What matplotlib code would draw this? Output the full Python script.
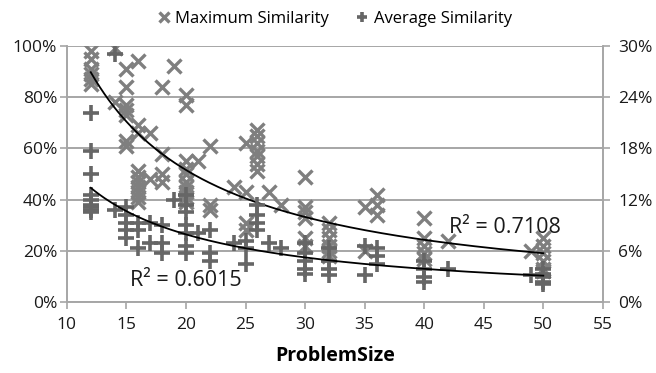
import numpy as np
import matplotlib
matplotlib.use("Agg")
import matplotlib.pyplot as plt
from matplotlib.ticker import FuncFormatter

# ---- data ----
max_x = [12]*6 + [14]*2 + [15]*7 + [16]*10 + [17]*2 + [18]*4 + [19] + [20]*10 + [21] + [22]*3 + \
        [24] + [25]*4 + [26]*7 + [27] + [28] + [30]*6 + [32]*6 + [35]*2 + [36]*3 + [40]*5 + [42] + [49] + [50]*6
max_y = [98, 95, 91, 89, 87, 85,
         99, 78,
         91, 84, 77, 75, 73, 63, 61,
         94, 69, 66, 51, 49, 47, 45, 43, 41, 39,
         66, 48,
         84, 58, 50, 47,
         92,
         81, 77, 55, 52, 50, 47, 45, 43, 41, 39,
         55,
         61, 38, 36,
         45,
         62, 43, 31, 28,
         67, 65, 62, 59, 57, 54, 51,
         43,
         38,
         49, 37, 35, 33, 25, 22,
         31, 28, 25, 22, 20, 18,
         37, 20,
         42, 38, 34,
         33, 25, 22, 19, 17,
         24,
         20,
         25, 22, 19, 16, 13, 12]

avg_x = [12]*9 + [14]*2 + [15]*5 + [16]*3 + [17]*2 + [18]*3 + [19] + [20]*7 + [21] + [22]*3 + \
        [24] + [25]*3 + [26]*4 + [27] + [28] + [30]*5 + [32]*4 + [35]*2 + [36]*3 + [40]*4 + [42] + [49] + [50]*5
# average similarity on the secondary axis (0-30%)
avg_y = [22.2, 17.7, 15.0, 12.6, 12.0, 11.4, 11.1, 10.8, 10.5,
         29.1, 10.8,
         11.1, 10.2, 9.3, 8.4, 7.5,
         9.3, 8.4, 6.3,
         9.3, 6.9,
         9.0, 6.9, 5.7,
         12.0,
         12.6, 11.4, 10.5, 9.0, 8.1, 6.6, 5.7,
         8.1,
         8.4, 5.7, 4.8,
         6.9,
         7.2, 6.3, 4.5,
         11.4, 10.2, 9.3, 8.4,
         6.9,
         6.3,
         6.9, 5.7, 4.8, 3.9, 3.3,
         6.3, 4.8, 3.9, 3.15,
         6.6, 3.15,
         6.3, 5.4, 4.5,
         4.8, 3.9, 3.0, 2.4,
         3.9,
         3.15,
         3.9, 3.3, 3.0, 2.4, 2.1]

left_ticks = [0, 20, 40, 60, 80, 100]
right_ticks = [0, 6, 12, 18, 24, 30]
x_ticks = [10, 15, 20, 25, 30, 35, 40, 45, 50, 55]
r2_max = "R² = 0.7108"
r2_avg = "R² = 0.6015"


def power_fit(x, y):
    x = np.asarray(x, float)
    y = np.asarray(y, float)
    b, lna = np.polyfit(np.log(x), np.log(y), 1)
    return np.exp(lna), b


plt.rcParams['font.family'] = ['Open Sans', 'DejaVu Sans']

fig = plt.figure(figsize=(6.56, 3.73), dpi=100)
ax = fig.add_axes([0.102, 0.190, 0.817, 0.687])
ax2 = ax.twinx()

grid_c = '#a6a6a6'
ax.set_xlim(10, 55)
ax.set_ylim(0, 100)
ax2.set_ylim(0, 30)
ax.set_xticks(x_ticks)
ax.set_yticks(left_ticks)
ax2.set_yticks(right_ticks)
ax.yaxis.set_major_formatter(FuncFormatter(lambda v, p: f"{int(v)}%"))
ax2.yaxis.set_major_formatter(FuncFormatter(lambda v, p: f"{int(v)}%"))
ax.grid(axis='y', color=grid_c, linewidth=1.4)
ax.set_axisbelow(True)
for a in (ax, ax2):
    a.spines['top'].set_visible(False)
    for s in ('left', 'right', 'bottom'):
        a.spines[s].set_color(grid_c)
        a.spines[s].set_linewidth(1.2)
    a.tick_params(axis='both', colors=grid_c, length=5, width=1.2,
                  labelcolor='#1a1a1a', labelsize=12.5)
ax.tick_params(axis='x', pad=6)
ax.tick_params(axis='y', pad=2)
ax2.tick_params(axis='y', pad=6)

mx_c = '#7f7f7f'
av_c = '#666666'
h1, = ax.plot(max_x, max_y, linestyle='none', marker='x', markersize=10,
              markeredgewidth=2.4, color=mx_c, label='Maximum Similarity', zorder=3)
h2, = ax2.plot(avg_x, avg_y, linestyle='none', marker='+', markersize=11,
               markeredgewidth=2.6, color=av_c, label='Average Similarity', zorder=3)

xs = np.linspace(min(max_x), max(max_x), 200)
a1, b1 = power_fit(max_x, max_y)
ax.plot(xs, a1 * xs ** b1, color='black', linewidth=1.3, zorder=4)
xs2 = np.linspace(min(avg_x), max(avg_x), 200)
a2, b2 = power_fit(avg_x, avg_y)
ax2.plot(xs2, a2 * xs2 ** b2, color='black', linewidth=1.3, zorder=4)

ax.text(46.8, 29, r2_max, fontsize=15.5, ha='center', va='center', color='#1a1a1a', zorder=5)
ax.text(20, 8.6, r2_avg, fontsize=15.5, ha='center', va='center', color='#1a1a1a', zorder=5)

ax.set_xlabel('ProblemSize', fontsize=14, fontweight='bold', labelpad=9)

leg = fig.legend(handles=[h1, h2], loc='upper center', bbox_to_anchor=(0.51, 1.01),
                 ncol=2, frameon=False, fontsize=12, handlelength=0.8,
                 handletextpad=0.3, columnspacing=1.6, markerscale=0.7)

fig.savefig('out.png', dpi=100)
